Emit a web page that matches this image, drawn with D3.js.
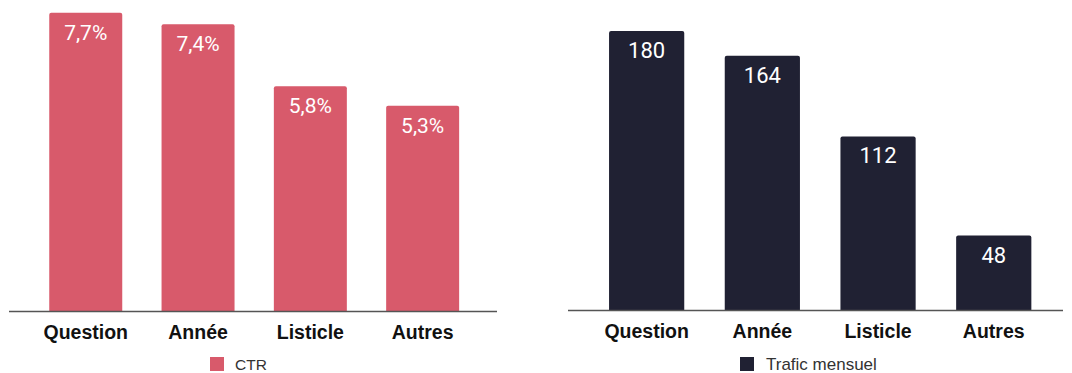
<!DOCTYPE html>
<html>
<head>
<meta charset="utf-8">
<script src="https://cdn.jsdelivr.net/npm/d3@7"></script>
<style>
  html, body { margin: 0; padding: 0; background: #ffffff; }
  svg { display: block; }
</style>
</head>
<body>
<svg id="chart" width="1072" height="373"></svg>
<script>
// Categories shared by both panels
const categories = ["Question", "Année", "Listicle", "Autres"];

// Left panel: click-through rate (%)
const ctrValues = [7.7, 7.4, 5.8, 5.3];
const ctrLabels = ["7,7%", "7,4%", "5,8%", "5,3%"];
const ctrLegend = "CTR";

// Right panel: monthly traffic
const trafficValues = [180, 164, 112, 48];
const trafficLabels = ["180", "164", "112", "48"];
const trafficLegend = "Trafic mensuel";

const svg = d3.select("#chart");

function panel(cfg) {
  const g = svg.append("g");

  const x = d3.scaleBand()
    .domain(categories)
    .range([cfg.bandStart, cfg.bandEnd])
    .paddingInner(0.35)
    .paddingOuter(0.175);

  const y = d3.scaleLinear()
    .domain([0, cfg.yMax])
    .range([cfg.baseline, cfg.top]);

  const data = categories.map((c, i) => ({ c, v: cfg.values[i], label: cfg.labels[i] }));

  // Bars with slightly rounded top corners
  g.selectAll("path.bar")
    .data(data)
    .join("path")
    .attr("class", "bar")
    .attr("fill", cfg.color)
    .attr("d", d => {
      const x0 = x(d.c), x1 = x0 + x.bandwidth();
      const y0 = y(d.v), y1 = y(0), r = 2;
      return `M${x0},${y1}V${y0 + r}Q${x0},${y0} ${x0 + r},${y0}H${x1 - r}Q${x1},${y0} ${x1},${y0 + r}V${y1}Z`;
    });

  // Value labels inside the top of each bar
  g.selectAll("text.value")
    .data(data)
    .join("text")
    .attr("class", "value")
    .attr("x", d => x(d.c) + x.bandwidth() / 2)
    .attr("y", d => y(d.v) + 27)
    .attr("text-anchor", "middle")
    .attr("fill", "#ffffff")
    .style("font-family", "Roboto, 'Noto Sans', sans-serif")
    .style("font-size", cfg.valueSize + "px")
    .text(d => d.label);

  // Baseline
  g.append("line")
    .attr("x1", cfg.lineStart)
    .attr("x2", cfg.lineEnd)
    .attr("y1", y(0) + 0.5)
    .attr("y2", y(0) + 0.5)
    .attr("stroke", "#555555")
    .attr("stroke-width", 1.3);

  // Category axis
  const axis = g.append("g")
    .attr("transform", `translate(0,${y(0)})`)
    .call(d3.axisBottom(x).tickSize(0).tickPadding(14));
  axis.select(".domain").remove();
  axis.selectAll("text")
    .attr("fill", "#111111")
    .style("font-family", "'Liberation Sans', Arial, sans-serif")
    .style("font-weight", "bold")
    .style("font-size", "19.5px");

  // Legend
  const lg = g.append("g").attr("transform", `translate(${cfg.legendX},357)`);
  lg.append("rect")
    .attr("width", 14).attr("height", 14)
    .attr("fill", cfg.color);
  lg.append("text")
    .attr("x", cfg.legendGap)
    .attr("y", 13)
    .attr("fill", "#333333")
    .style("font-family", "'Liberation Sans', Arial, sans-serif")
    .style("font-size", cfg.legendSize + "px")
    .text(cfg.legend);
}

panel({
  values: ctrValues, labels: ctrLabels, legend: ctrLegend,
  color: "#d85a6b", yMax: 8, baseline: 311, top: 1,
  bandStart: 29.6, bandEnd: 478.8, lineStart: 9, lineEnd: 497,
  valueSize: 21, legendX: 210, legendGap: 25, legendSize: 15.5
});

panel({
  values: trafficValues, labels: trafficLabels, legend: trafficLegend,
  color: "#202133", yMax: 200, baseline: 310, top: 0,
  bandStart: 588.8, bandEnd: 1051.6, lineStart: 568, lineEnd: 1063,
  valueSize: 22, legendX: 740, legendGap: 26, legendSize: 17
});
</script>
</body>
</html>
